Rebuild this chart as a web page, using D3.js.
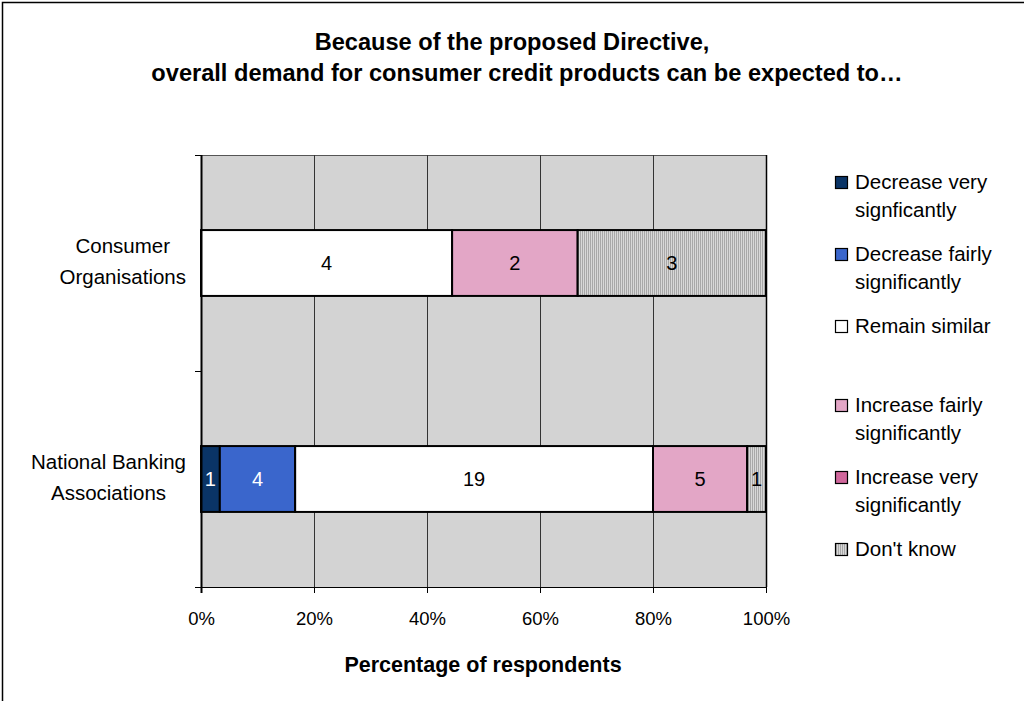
<!DOCTYPE html>
<html><head><meta charset="utf-8">
<script src="https://cdnjs.cloudflare.com/ajax/libs/d3/7.8.5/d3.min.js"></script>
<style>body{margin:0;background:#fff}svg{display:block;font-family:"Liberation Sans",Arial,sans-serif}</style>
</head><body><svg id="c" width="1024" height="701"></svg>
<script>
const categories = ["Consumer Organisations", "National Banking Associations"];
const categoryLines = [["Consumer", "Organisations"], ["National Banking", "Associations"]];
const seriesNames = ["Decrease very signficantly", "Decrease fairly significantly", "Remain similar", "Increase fairly significantly", "Increase very significantly", "Don't know"];
const legendLines = [["Decrease very", "signficantly"], ["Decrease fairly", "significantly"], ["Remain similar"], ["Increase fairly", "significantly"], ["Increase very", "significantly"], ["Don't know"]];
const consumerValues = [0, 0, 4, 2, 0, 3];
const bankingValues = [1, 4, 19, 5, 0, 1];
const xTicks = [0, 0.2, 0.4, 0.6, 0.8, 1.0];
const colors = ["#0A3466", "#3A66CC", "#FFFFFF", "#E3A6C6", "#D0679C", "url(#stripes)"];
const labelColors = ["#fff", "#fff", "#000", "#000", "#000", "#000"];

const svg = d3.select("#c");
const defs = svg.append("defs");
const pat = defs.append("pattern").attr("id","stripes").attr("patternUnits","userSpaceOnUse").attr("width",2).attr("height",2);
pat.append("rect").attr("width",2).attr("height",2).attr("fill","#D8D8D8");
pat.append("rect").attr("width",1).attr("height",2).attr("fill","#A8A8A8");

// outer border (left/top)
svg.append("rect").attr("x",2.5).attr("y",2.5).attr("width",1030).attr("height",710).attr("fill","none").attr("stroke","#000").attr("stroke-width",1.5);

// title
const title = svg.append("text").attr("text-anchor","middle").attr("font-weight","bold").attr("font-size",23.6);
title.append("tspan").attr("x",512).attr("y",50).text("Because of the proposed Directive,");
title.append("tspan").attr("x",527).attr("y",81).text("overall demand for consumer credit products can be expected to\u2026");

const L = 201, R = 766, T = 155, B = 587;
const x = d3.scaleLinear().domain([0,1]).range([L,R]);
const y = d3.scaleBand().domain(categories).range([T,B]).paddingInner(0.695).paddingOuter(0.3475);

svg.append("rect").attr("x",L).attr("y",T).attr("width",R-L).attr("height",B-T).attr("fill","#D3D3D3");
svg.append("line").attr("x1",L).attr("x2",R).attr("y1",T+0.5).attr("y2",T+0.5).attr("stroke","#555");
svg.selectAll(".grid").data(xTicks.slice(1)).join("line")
  .attr("x1",d=>Math.round(x(d))+0.5).attr("x2",d=>Math.round(x(d))+0.5).attr("y1",T).attr("y2",B)
  .attr("stroke", d=> d===1 ? "#000" : "#333").attr("stroke-width", d=> d===1 ? 1.5 : 1);

const rows = [consumerValues, bankingValues];
rows.forEach((vals, ri) => {
  const tot = d3.sum(vals);
  let cum = 0;
  const segs = vals.map((v,i)=>{const s={i,v,x0:cum/tot,x1:(cum+v)/tot}; cum+=v; return s;}).filter(s=>s.v>0);
  const g = svg.append("g");
  g.selectAll("rect").data(segs).join("rect")
    .attr("x",d=>x(d.x0)).attr("width",d=>x(d.x1)-x(d.x0))
    .attr("y",y(categories[ri])).attr("height",y.bandwidth())
    .attr("fill",d=>colors[d.i]).attr("stroke","#000").attr("stroke-width",2);
  g.selectAll("text").data(segs).join("text")
    .attr("x",d=>(x(d.x0)+x(d.x1))/2).attr("y",y(categories[ri])+y.bandwidth()/2+7)
    .attr("text-anchor","middle").attr("font-size",20).attr("fill",d=>labelColors[d.i]).text(d=>d.v);
});

// axes
const xAxis = d3.axisBottom(x).tickValues(xTicks).tickFormat(d3.format(".0%")).tickSize(6).tickPadding(19);
const gx = svg.append("g").attr("transform",`translate(0,${B})`).call(xAxis);
gx.select(".domain").attr("stroke","#000").attr("d",`M${L-6},0.5H${R}`);
gx.selectAll(".tick line").attr("stroke","#000");
gx.selectAll(".tick text").attr("font-size",18.5).attr("font-family","Liberation Sans, Arial, sans-serif").attr("fill","#000");

svg.append("line").attr("x1",L+0.5).attr("x2",L+0.5).attr("y1",T).attr("y2",B+6).attr("stroke","#000").attr("stroke-width",2);
[T,(T+B)/2,B].forEach(v=>svg.append("line").attr("x1",L-6).attr("x2",L).attr("y1",v+0.5).attr("y2",v+0.5).attr("stroke","#000"));

categories.forEach((c,i)=>{
  const cy = y(c)+y.bandwidth()/2;
  const t = svg.append("text").attr("text-anchor","middle").attr("font-size",20.5);
  const spans = categoryLines[i].map((ln,k)=>t.append("tspan").attr("y",cy-10+k*31).text(ln));
  const w = d3.max(spans, s=>s.node().getComputedTextLength());
  spans.forEach(s=>s.attr("x",186 - w/2));
});

svg.append("text").attr("x",483).attr("y",672).attr("text-anchor","middle").attr("font-weight","bold").attr("font-size",21.5).text("Percentage of respondents");

// legend
const legY = [182, 254, 326, 405, 477, 549];
seriesNames.forEach((s,i)=>{
  const g = svg.append("g");
  g.append("rect").attr("x",835.5).attr("y",legY[i]-5.5).attr("width",12).attr("height",12).attr("fill",colors[i]).attr("stroke","#000").attr("stroke-width",1.2);
  const t = g.append("text").attr("font-size",20.5);
  legendLines[i].forEach((ln,k)=>t.append("tspan").attr("x",855).attr("y",legY[i]+7+k*28).text(ln));
});
</script></body></html>
